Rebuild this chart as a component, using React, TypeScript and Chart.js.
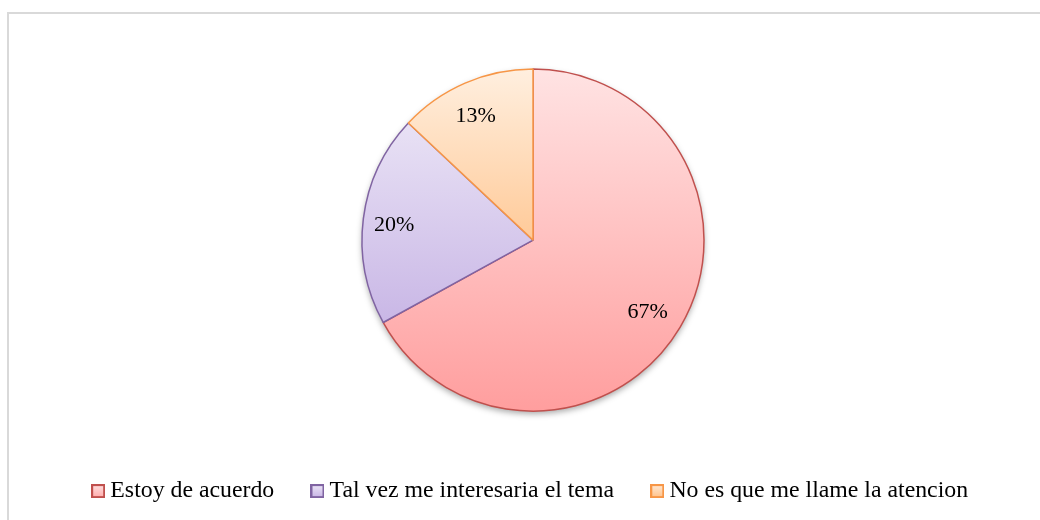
import React, { useEffect, useRef } from "react";
import { Chart, registerables } from "chart.js";

Chart.register(...registerables);

const categories = [
  "Estoy de acuerdo",
  "Tal vez me interesaria el tema",
  "No es que me llame la atencion",
];
const values = [67, 20, 13];
const valueLabels = ["67%", "20%", "13%"];
const borderColors = ["#C0504D", "#8064A2", "#F79646"];
const gradTop = ["#FFE3E3", "#F1EDF9", "#FFEFDF"];
const gradBottom = ["#FF9E9E", "#BBA4DF", "#FFA552"];
const legendTop = ["#FFE2E2", "#EEE8F8", "#FFEBD8"];
const legendBottom = ["#FFA9A9", "#C6B2E4", "#FFC086"];

const FONT = '"Liberation Serif", "Times New Roman", serif';
const R = 171;

function makeLegendBox(i: number): HTMLCanvasElement {
  const size = 14;
  const c = document.createElement("canvas");
  c.width = size;
  c.height = size;
  const g = c.getContext("2d")!;
  const grad = g.createLinearGradient(0, 0, 0, size);
  grad.addColorStop(0, legendTop[i]);
  grad.addColorStop(1, legendBottom[i]);
  g.fillStyle = grad;
  g.fillRect(0, 0, size, size);
  g.strokeStyle = borderColors[i];
  g.lineWidth = 2;
  g.strokeRect(1, 1, size - 2, size - 2);
  return c;
}

const shadowPlugin = {
  id: "pieShadow",
  beforeDatasetsDraw(chart: any) {
    const meta = chart.getDatasetMeta(0);
    const arc = meta.data[0];
    if (!arc) return;
    const { x, y, outerRadius } = arc.getProps(["x", "y", "outerRadius"], true);
    const ctx = chart.ctx;
    ctx.save();
    ctx.shadowColor = "rgba(0,0,0,0.35)";
    ctx.shadowBlur = 6;
    ctx.shadowOffsetX = 0;
    ctx.shadowOffsetY = 3;
    ctx.fillStyle = "#ffffff";
    ctx.beginPath();
    ctx.arc(x, y, outerRadius, 0, Math.PI * 2);
    ctx.fill();
    ctx.restore();
  },
};

const labelPlugin = {
  id: "sliceLabels",
  afterDatasetsDraw(chart: any) {
    const meta = chart.getDatasetMeta(0);
    const ctx = chart.ctx;
    ctx.save();
    ctx.font = `22px ${FONT}`;
    ctx.fillStyle = "#000000";
    ctx.textAlign = "center";
    ctx.textBaseline = "middle";
    meta.data.forEach((el: any, i: number) => {
      const { x, y, startAngle, endAngle, outerRadius } = el.getProps(
        ["x", "y", "startAngle", "endAngle", "outerRadius"],
        true
      );
      const mid = (startAngle + endAngle) / 2;
      const rr = outerRadius * 0.8;
      ctx.fillText(valueLabels[i], x + Math.cos(mid) * rr - 3, y + Math.sin(mid) * rr + 2);
    });
    ctx.restore();
  },
};

export default function App() {
  const canvasRef = useRef<HTMLCanvasElement | null>(null);

  useEffect(() => {
    const canvas = canvasRef.current;
    if (!canvas) return;
    const boxes = categories.map((_, i) => makeLegendBox(i));
    const chart = new Chart(canvas, {
      type: "pie",
      data: {
        labels: categories,
        datasets: [
          {
            data: values,
            radius: R,
            borderColor: borderColors,
            borderWidth: 1.5,
            backgroundColor: (c: any) => {
              const ch = c.chart;
              const area = ch.chartArea;
              const i = c.dataIndex;
              if (!area) return gradBottom[i];
              const cy = (area.top + area.bottom) / 2;
              const g = ch.ctx.createLinearGradient(0, cy - R, 0, cy + R);
              g.addColorStop(0, gradTop[i]);
              g.addColorStop(1, gradBottom[i]);
              return g;
            },
          } as any,
        ],
      },
      options: {
        animation: false,
        responsive: false,
        layout: { padding: { left: 26, right: 0, top: 44, bottom: 7 } },
        plugins: {
          tooltip: { enabled: false },
          legend: {
            display: true,
            position: "bottom",
            labels: {
              usePointStyle: true,
              boxWidth: 0.5,
              boxHeight: 14,
              padding: 43,
              color: "#000000",
              font: { family: FONT, size: 23.8 },
              generateLabels: () =>
                categories.map((t, i) => ({
                  text: t,
                  fillStyle: legendBottom[i],
                  strokeStyle: borderColors[i],
                  lineWidth: 0,
                  pointStyle: boxes[i],
                  hidden: false,
                  index: i,
                })),
            },
          },
        },
      },
      plugins: [shadowPlugin, labelPlugin],
    } as any);
    return () => chart.destroy();
  }, []);

  return (
    <div
      style={{
        position: "fixed",
        left: 0,
        top: 0,
        width: 1040,
        height: 520,
        overflow: "hidden",
        background: "#ffffff",
      }}
    >
      <div
        style={{
          position: "absolute",
          left: 7,
          top: 12,
          width: 1100,
          height: 600,
          borderLeft: "2px solid #D9D9D9",
          borderTop: "2px solid #D9D9D9",
        }}
      />
      <canvas
        ref={canvasRef}
        width={1040}
        height={520}
        style={{ position: "absolute", left: 0, top: 0, width: 1040, height: 520 }}
      />
    </div>
  );
}
